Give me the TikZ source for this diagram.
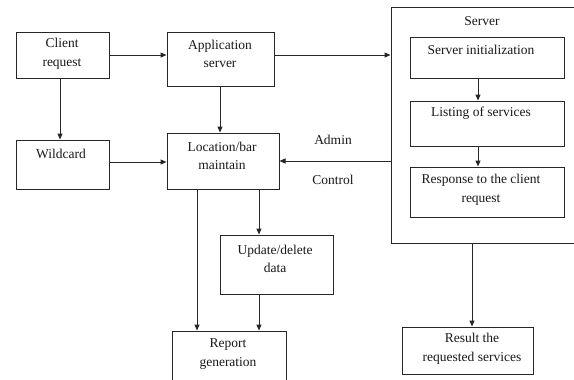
\documentclass[tikz,border=0pt]{standalone}
\usepackage{fontspec}
\setmainfont{Liberation Serif}
\usetikzlibrary{arrows.meta,calc}
\begin{document}
\begin{tikzpicture}[x=1pt,y=-1pt,
  box/.style={draw=black!85, line width=1pt, rectangle, inner sep=0pt},
  txt/.style={font=\fontsize{13.5}{18.5}\selectfont, align=center, inner sep=0pt, text=black!90},
  arr/.style={draw=black!85, line width=1pt, -{Triangle[length=6pt,width=5pt]}}]
\useasboundingbox (0,0) rectangle (574,380);
\clip (0,0) rectangle (574,380);
\fill[white] (0,0) rectangle (574,380);
% boxes (by corners)
\path (16,32) -- (109,78) node[box, midway, minimum width=93pt, minimum height=46pt] (client) {};
\path (167,32) -- (274,86) node[box, midway, minimum width=107pt, minimum height=54pt] (app) {};
\path (16,140) -- (109,189) node[box, midway, minimum width=93pt, minimum height=49pt] (wild) {};
\path (167,133) -- (279,189) node[box, midway, minimum width=112pt, minimum height=56pt] (loc) {};
\path (391,7) -- (590,243) node[box, midway, minimum width=199pt, minimum height=236pt] (server) {};
\path (410,37) -- (564,78) node[box, midway, minimum width=154pt, minimum height=41pt] (init) {};
\path (410,101) -- (564,146) node[box, midway, minimum width=154pt, minimum height=45pt] (list) {};
\path (410,167) -- (564,217) node[box, midway, minimum width=154pt, minimum height=50pt] (resp) {};
\path (220,235) -- (333,294) node[box, midway, minimum width=113pt, minimum height=59pt] (upd) {};
\path (172,331) -- (286,400) node[box, midway, minimum width=114pt, minimum height=69pt] (rep) {};
\path (402,327) -- (533,374) node[box, midway, minimum width=131pt, minimum height=47pt] (res) {};
% texts
\node[txt] (tclient) at (62,54) {Client\\request};
\node[txt] (tapp) at (220,54) {Application\\server};
\node[txt] (twild) at (61,154) {Wildcard};
\node[txt] (tloc) at (222,156) {Location/bar\\maintain};
\node[txt] (tserver) at (482,21) {Server};
\node[txt] (tinit) at (481,50) {Server initialization};
\node[txt] (tlist) at (481,113) {Listing of services};
\node[txt] (tresp) at (481,190) {Response to the client\\request};
\node[txt] (tadmin) at (333,140) {Admin};
\node[txt] (tcontrol) at (333,180) {Control};
\node[txt] (tupd) at (275,259) {Update/delete\\data};
\node[txt] (trep) at (228,354) {Report\\generation};
\node[txt] (tres) at (472,349) {Result the\\requested services};
% connectors
\draw[arr] (client.east |- 0,55) -- (app.west |- 0,55);
\draw[arr] (app.east |- 0,55) -- (server.west |- 0,55);
\draw[arr] (client.south -| 60,0) -- (wild.north -| 60,0);
\draw[arr] (app.south -| 220,0) -- (loc.north -| 220,0);
\draw[arr] (wild.east |- 0,162) -- (loc.west |- 0,162);
\draw[arr] (server.west |- 0,161) -- (loc.east |- 0,161);
\draw[arr] (init.south -| 478,0) -- (list.north -| 478,0);
\draw[arr] (list.south -| 478,0) -- (resp.north -| 478,0);
\draw[arr] (loc.south -| 197,0) -- (rep.north -| 197,0);
\draw[arr] (loc.south -| 259,0) -- (upd.north -| 259,0);
\draw[arr] (upd.south -| 259,0) -- (rep.north -| 259,0);
\draw[arr] (server.south -| 472,0) -- (res.north -| 472,0);
\end{tikzpicture}
\end{document}
